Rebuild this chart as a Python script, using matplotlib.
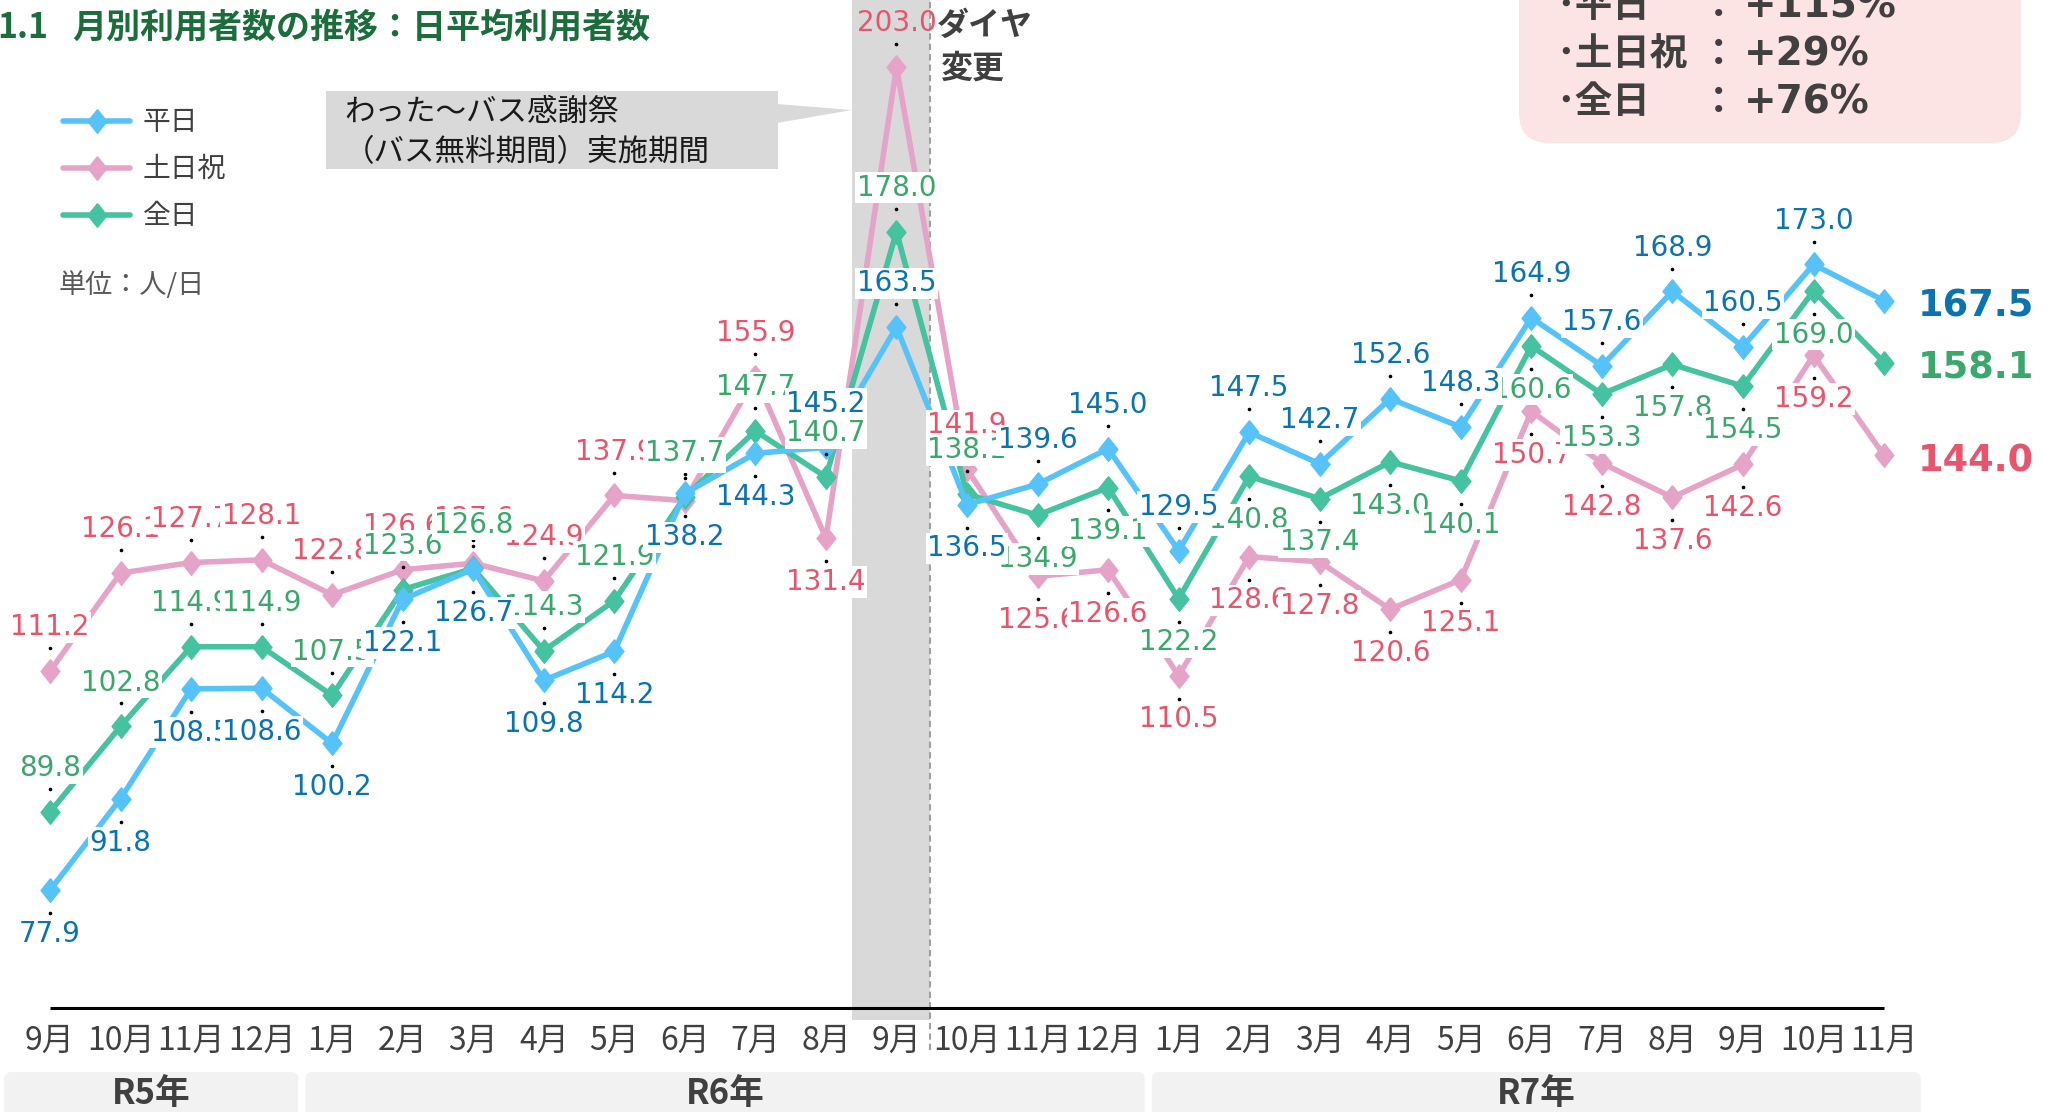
import matplotlib
matplotlib.use("Agg")
import matplotlib.pyplot as plt
from matplotlib.patches import FancyBboxPatch, Rectangle, Polygon
from matplotlib.lines import Line2D
from matplotlib.transforms import offset_copy

plt.rcParams['font.family'] = ['Noto Sans CJK JP', 'DejaVu Sans']

# data
months = ["9月", "10月", "11月", "12月",
          "1月", "2月", "3月", "4月", "5月", "6月", "7月", "8月", "9月", "10月", "11月", "12月",
          "1月", "2月", "3月", "4月", "5月", "6月", "7月", "8月", "9月", "10月", "11月"]
years = ["R5年", "R6年", "R7年"]
year_counts = [4, 12, 11]

weekday = [77.9, 91.8, 108.5, 108.6,
           100.2, 122.1, 126.7, 109.8, 114.2, 138.2, 144.3, 145.2, 163.5, 136.5, 139.6, 145.0,
           129.5, 147.5, 142.7, 152.6, 148.3, 164.9, 157.6, 168.9, 160.5, 173.0, 167.5]
holiday = [111.2, 126.1, 127.7, 128.1,
           122.8, 126.6, 127.6, 124.9, 137.9, 137.1, 155.9, 131.4, 203.0, 141.9, 125.6, 126.6,
           110.5, 128.6, 127.8, 120.6, 125.1, 150.7, 142.8, 137.6, 142.6, 159.2, 144.0]
allday = [89.8, 102.8, 114.9, 114.9,
          107.5, 123.6, 126.8, 114.3, 121.9, 137.7, 147.7, 140.7, 178.0, 138.1, 134.9, 139.1,
          122.2, 140.8, 137.4, 143.0, 140.1, 160.6, 153.3, 157.8, 154.5, 169.0, 158.1]

growth_labels = ["･平日", "･土日祝", "･全日"]
growth_values = ["+115%", "+29%", "+76%"]

# label placement: 'a' above, 'b' below, None = no label
weekday_pos = ['b'] * 11 + ['a', 'a', 'b'] + ['a'] * 12 + [None]
holiday_pos = ['a'] * 11 + ['b', 'a', 'a'] + ['b'] * 12 + [None]
allday_pos = ['a'] * 14 + ['b'] * 12 + [None]

W, H = 2062, 1112
fig = plt.figure(figsize=(W / 100, H / 100), dpi=100)
T = fig.dpi_scale_trans


def px(x, y):
    # pixel (from top-left) -> inches for dpi_scale_trans
    return x / 100, (H - y) / 100


ax = fig.add_axes([0, 0, 1, 1])
ax.axis('off')
step = 70.54
yscale = 6.58
ax.set_xlim(-50 / step, (W - 50) / step)
ax.set_ylim(60 - 104 / yscale, 60 + 1008 / yscale)

x = list(range(len(months)))
n = len(months)

# free-ride period band and timetable change line
ax.add_patch(Rectangle((11.37, 58.2), 1.105, 200, fc='#d9d9d9', ec='none', zorder=0))
ax.vlines(12.475, 53.6, 215, colors='#a0a0a0', linestyles=(0, (3, 2)), lw=1.5, zorder=0.5)

# baseline
ax.hlines(60, 0, n - 1, colors='black', lw=2.2, zorder=1)

dmark = [(0, 1), (0.8, 0), (0, -1), (-0.8, 0), (0, 1)]

series = [
    ("土日祝", holiday, holiday_pos, '#e6a3c8', '#e8546c'),
    ("全日", allday, allday_pos, '#45c29f', '#3aa86c'),
    ("平日", weekday, weekday_pos, '#55c3f7', '#0a73b0'),
]

for name, vals, pos, lc, tc in series:
    ax.plot(x, vals, color=lc, lw=4, marker=dmark, ms=17, zorder=2, solid_joinstyle='miter')

for name, vals, pos, lc, tc in series:
    for i, (v, p) in enumerate(zip(vals, pos)):
        if p is None:
            continue
        sgn = 1 if p == 'a' else -1
        box = dict(boxstyle='square,pad=0.06', fc='white', ec='none')
        if v == max(holiday) and name == "土日祝":
            box = None
        tr = offset_copy(ax.transData, fig, x=0, y=sgn * 16.5, units='points')
        ax.plot(i, v, 'o', ms=1.6, color='black', transform=tr, zorder=3)
        ax.annotate(f"{v:.1f}", (i, v), xytext=(0, sgn * 31.5), textcoords='offset points',
                    ha='center', va='center', fontsize=20, color=tc, family=['DejaVu Sans'],
                    bbox=box, zorder=4)
    ax.annotate(f"{vals[-1]:.1f}", (n - 1, vals[-1]), xytext=(24, -4), textcoords='offset points',
                ha='left', va='center', fontsize=26.5, fontweight='bold', color=tc,
                family=['DejaVu Sans'], zorder=4)

# month tick labels
for i, m in enumerate(months):
    ax.text(i, 55.0, m, ha='center', va='center', fontsize=23, color='#404040')

# year boxes
start = 0
for k, (yl, cnt) in enumerate(zip(years, year_counts)):
    left = start - 0.5 + 0.12 if k > 0 else ax.get_xlim()[0] + 0.06
    right = start + cnt - 0.5 + 0.02
    ax.add_patch(FancyBboxPatch((left, 40), right - left, 10.27,
                                boxstyle='round,pad=0,rounding_size=0.1', mutation_aspect=10.7,
                                fc='#f2f2f2', ec='none', zorder=0))
    ax.text((left + right) / 2, 47.0, yl, ha='center', va='center', fontsize=25,
            fontweight='bold', color='#404040')
    start += cnt

# title
fig.text(*px(48, 27), "1.1", transform=T, ha='right', va='center', fontsize=24.5,
         fontweight='bold', color='#1b6e3c')
fig.text(*px(72, 27), "月別利用者数の推移：日平均利用者数", transform=T, ha='left', va='center',
         fontsize=24.5, fontweight='bold', color='#1b6e3c')

# legend
for (name, vals, pos, lc, tc), yy in zip([series[2], series[0], series[1]], [121, 168, 215]):
    x0, y0 = px(63, yy)
    x1, _ = px(130, yy)
    fig.add_artist(Line2D([x0, x1], [y0, y0], color=lc, lw=4, transform=T,
                          solid_capstyle='round'))
    fig.add_artist(Line2D([(x0 + x1) / 2], [y0], color=lc, marker=dmark, ms=17, transform=T))
    fig.text(*px(143, yy + 1), name, transform=T, ha='left', va='center', fontsize=20,
             color='#404040')
fig.text(*px(59, 285), "単位：人/日", transform=T, ha='left', va='center', fontsize=19.5,
         color='#595959')

# callout box for the free-ride festival
bx0, by0 = px(326, 169)
bx1, by1 = px(778, 91)
fig.add_artist(Rectangle((bx0, by0), bx1 - bx0, by1 - by0, transform=T, fc='#d9d9d9', ec='none'))
fig.add_artist(Polygon([px(777, 104), px(852, 110), px(777, 123)], closed=True, transform=T,
                       fc='#d9d9d9', ec='none'))
fig.text(*px(344, 112), "わった～バス感謝祭", transform=T, ha='left', va='center', fontsize=22,
         color='#1a1a1a')
fig.text(*px(344, 153), "（バス無料期間）実施期間", transform=T, ha='left', va='center',
         fontsize=22, color='#1a1a1a')

fig.text(*px(937, 26), "ダイヤ", transform=T, ha='left', va='center', fontsize=23,
         fontweight='bold', color='#404040')
fig.text(*px(940, 69), "変更", transform=T, ha='left', va='center', fontsize=23,
         fontweight='bold', color='#404040')

# growth summary box
gx0, gy0 = px(1519, 143)
gx1, _ = px(2021, 0)
fig.add_artist(FancyBboxPatch((gx0, gy0), gx1 - gx0, 3, transform=T,
                              boxstyle='round,pad=0,rounding_size=0.3', fc='#fde4e4', ec='none'))
for k, (gl, gv) in enumerate(zip(growth_labels, growth_values)):
    yy = 6 + 48 * k
    fig.text(*px(1556, yy), gl, transform=T, ha='left', va='center', fontsize=27,
             fontweight='bold', color='#404040')
    fig.text(*px(1700, yy), "：", transform=T, ha='left', va='center', fontsize=27,
             fontweight='bold', color='#404040')
    fig.text(*px(1744, yy + 1), gv, transform=T, ha='left', va='center', fontsize=28,
             fontweight='bold', color='#404040', family=['DejaVu Sans'])

fig.savefig("out.png", dpi=100)
